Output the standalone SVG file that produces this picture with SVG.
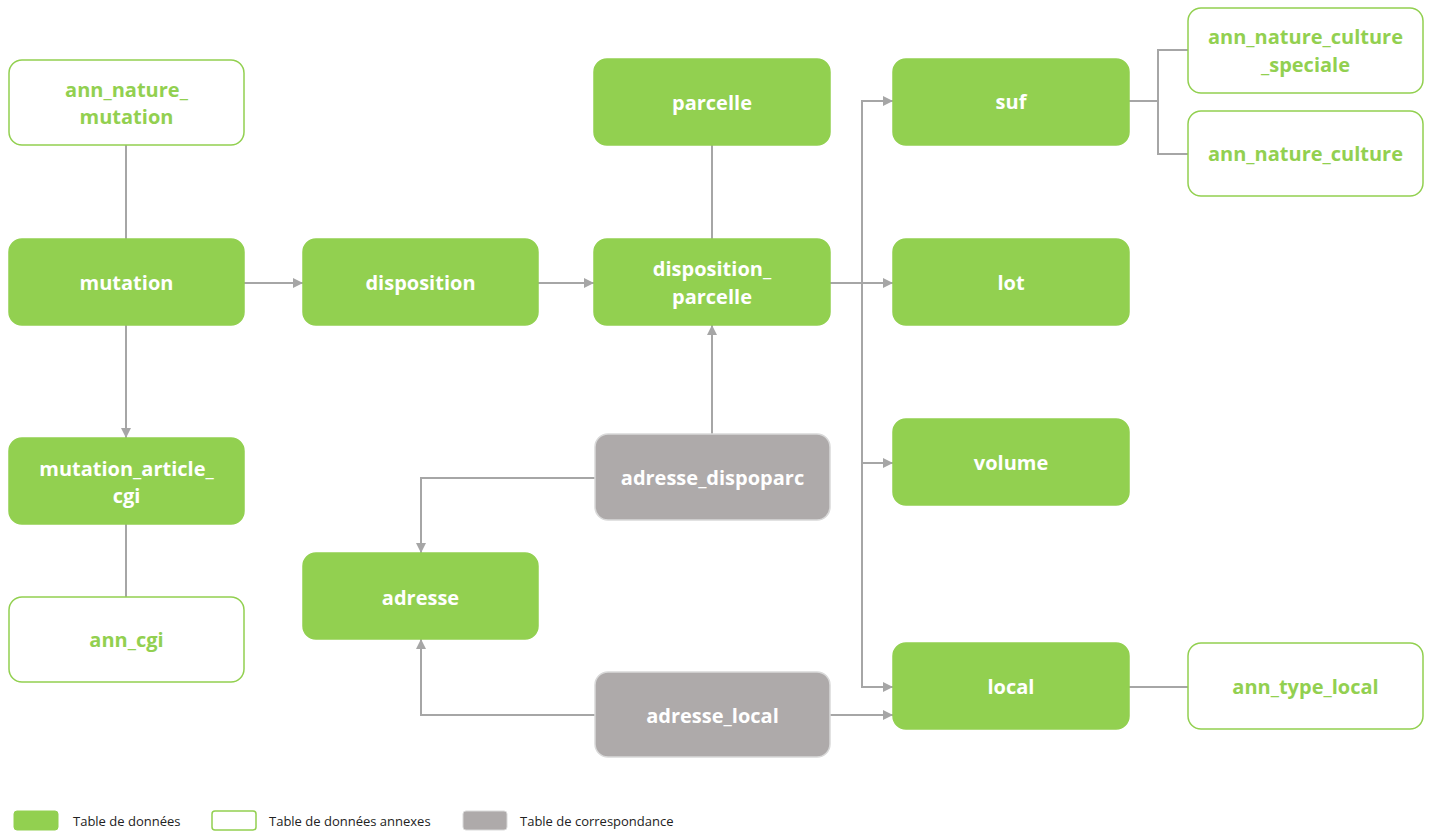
<svg xmlns="http://www.w3.org/2000/svg" width="1433" height="831" viewBox="0 0 1433 831">
<style>
.n rect{stroke-width:1.5}
.d rect{fill:#92D050;stroke:#92D050}
.a rect{fill:#FFFFFF;stroke:#92D050}
.c rect{fill:#AEAAAA;stroke:#D9D9D9}
.n text{font-family:"Open Sans","Liberation Sans",sans-serif;font-weight:bold;font-size:20px;text-anchor:middle}
.d text,.c text{fill:#FFFFFF}
.a text{fill:#92D050}
#connectors path{fill:none;stroke:#A6A6A6;stroke-width:2}
.lg{font-family:"Open Sans","Liberation Sans",sans-serif;font-size:13px;fill:#222}
</style>
<defs>
<marker id="arr" viewBox="0 0 10 10" refX="10" refY="5" markerWidth="5" markerHeight="5" orient="auto" markerUnits="strokeWidth">
<path d="M0,0 L10,5 L0,10 z" fill="#A6A6A6"/>
</marker>
</defs>
<rect width="1433" height="831" fill="#FFFFFF"/>
<g id="connectors">
<path d="M126,145 V239"/>
<path d="M126,325 V438" marker-end="url(#arr)"/>
<path d="M126,524 V597"/>
<path d="M244,283 H303" marker-end="url(#arr)"/>
<path d="M538,283 H594" marker-end="url(#arr)"/>
<path d="M712,145 V239"/>
<path d="M712,434 V325" marker-end="url(#arr)"/>
<path d="M595,478 H421 V553" marker-end="url(#arr)"/>
<path d="M595,715 H421 V639" marker-end="url(#arr)"/>
<path d="M830,715 H893" marker-end="url(#arr)"/>
<path d="M830,283 H893" marker-end="url(#arr)"/>
<path d="M862,283 V101 H893" marker-end="url(#arr)"/>
<path d="M862,283 V463 H893" marker-end="url(#arr)"/>
<path d="M862,463 V687 H893" marker-end="url(#arr)"/>
<path d="M1129,101 H1158"/>
<path d="M1188,50 H1158 V154 H1188"/>
<path d="M1129,687 H1188"/>
</g>
<g id="ann_nature_mutation" class="n a"><rect x="9" y="60" width="235" height="85" rx="13"/><text x="126.5" y="97">ann_nature_</text><text x="126.5" y="124">mutation</text></g>
<g id="mutation" class="n d"><rect x="9" y="239" width="235" height="86" rx="13"/><text x="126.5" y="290">mutation</text></g>
<g id="mutation_article_cgi" class="n d"><rect x="9" y="438" width="235" height="86" rx="13"/><text x="126.5" y="476">mutation_article_</text><text x="126.5" y="503">cgi</text></g>
<g id="ann_cgi" class="n a"><rect x="9" y="597" width="235" height="85" rx="13"/><text x="126.5" y="647">ann_cgi</text></g>
<g id="disposition" class="n d"><rect x="303" y="239" width="235" height="86" rx="13"/><text x="420.5" y="290">disposition</text></g>
<g id="parcelle" class="n d"><rect x="594" y="59" width="236" height="86" rx="13"/><text x="712" y="110">parcelle</text></g>
<g id="disposition_parcelle" class="n d"><rect x="594" y="239" width="236" height="86" rx="13"/><text x="712" y="276">disposition_</text><text x="712" y="304">parcelle</text></g>
<g id="adresse_dispoparc" class="n c"><rect x="595" y="434" width="235" height="86" rx="13"/><text x="712.5" y="485">adresse_dispoparc</text></g>
<g id="adresse" class="n d"><rect x="303" y="553" width="235" height="86" rx="13"/><text x="420.5" y="605">adresse</text></g>
<g id="adresse_local" class="n c"><rect x="595" y="672" width="235" height="85" rx="13"/><text x="712.5" y="723">adresse_local</text></g>
<g id="suf" class="n d"><rect x="893" y="59" width="236" height="86" rx="13"/><text x="1011" y="109">suf</text></g>
<g id="lot" class="n d"><rect x="893" y="239" width="236" height="86" rx="13"/><text x="1011" y="290">lot</text></g>
<g id="volume" class="n d"><rect x="893" y="419" width="236" height="86" rx="13"/><text x="1011" y="470">volume</text></g>
<g id="local" class="n d"><rect x="893" y="643" width="236" height="86" rx="13"/><text x="1011" y="694">local</text></g>
<g id="ann_nature_culture_speciale" class="n a"><rect x="1188" y="8" width="235" height="85" rx="13"/><text x="1305.5" y="44">ann_nature_culture</text><text x="1305.5" y="72">_speciale</text></g>
<g id="ann_nature_culture" class="n a"><rect x="1188" y="111" width="235" height="85" rx="13"/><text x="1305.5" y="161">ann_nature_culture</text></g>
<g id="ann_type_local" class="n a"><rect x="1188" y="643" width="235" height="86" rx="13"/><text x="1305.5" y="694">ann_type_local</text></g>
<g id="legend">
<rect x="14" y="811" width="44" height="19" rx="3" fill="#92D050" stroke="#92D050"/>
<text class="lg" x="73" y="826">Table de données</text>
<rect x="212" y="811" width="44" height="19" rx="3" fill="#FFFFFF" stroke="#92D050" stroke-width="1.5"/>
<text class="lg" x="269" y="826">Table de données annexes</text>
<rect x="463" y="811" width="44" height="19" rx="3" fill="#AEAAAA" stroke="#D9D9D9"/>
<text class="lg" x="520" y="826">Table de correspondance</text>
</g>
</svg>
